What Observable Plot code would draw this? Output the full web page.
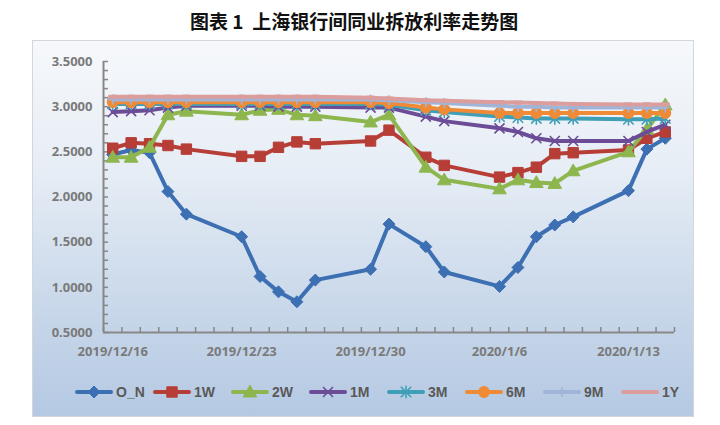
<!DOCTYPE html>
<html>
<head>
<meta charset="utf-8">
<script src="https://cdn.jsdelivr.net/npm/d3@7"></script>
<script src="https://cdn.jsdelivr.net/npm/@observablehq/plot@0.6"></script>
<style>
  html, body { margin: 0; padding: 0; background: #fff; }
  body { width: 720px; height: 425px; position: relative; overflow: hidden; font-family: "Liberation Sans", Arial, sans-serif; }
  #title { position: absolute; top: 7px; left: 190px; width: 316px; text-align: center; white-space: nowrap;
           font: bold 19px "Noto Sans CJK SC", sans-serif; color: #111; }
  #frame { position: absolute; left: 32px; top: 40px; width: 660px; height: 375px; border: 1px solid #d3d7dd;
           background: linear-gradient(to bottom, #f6f8fb 0%, #e6edf5 35%, #c9d8ea 70%, #b5c9e3 100%); }
  #chart { position: absolute; left: 0; top: 0; }
  #legend { position: absolute; left: 42px; top: 343px; display: flex; align-items: center; gap: 0; }
  .item { display: flex; align-items: center; width: 78px; }
  .item span { font: bold 14px "Liberation Sans", Arial, sans-serif; color: #595959; margin-left: 3px; }
</style>
</head>
<body>
<div id="title">图表 1&nbsp;&nbsp;上海银行间同业拆放利率走势图</div>
<div id="frame">
  <div id="chart"></div>
  <div id="legend"></div>
</div>
<script>
// ---- data ----
const dates = ["2019-12-16","2019-12-17","2019-12-18","2019-12-19","2019-12-20",
               "2019-12-23","2019-12-24","2019-12-25","2019-12-26","2019-12-27",
               "2019-12-30","2019-12-31","2020-01-02","2020-01-03",
               "2020-01-06","2020-01-07","2020-01-08","2020-01-09","2020-01-10",
               "2020-01-13","2020-01-14","2020-01-15"];
const seriesNames = ["O_N","1W","2W","1M","3M","6M","9M","1Y"];
const valsON = [2.47,2.52,2.49,2.06,1.81,1.56,1.12,0.95,0.84,1.08,1.20,1.70,1.45,1.17,1.01,1.22,1.56,1.69,1.78,2.07,2.53,2.65];
const vals1W = [2.54,2.60,2.59,2.57,2.53,2.45,2.45,2.55,2.61,2.59,2.62,2.74,2.44,2.35,2.22,2.27,2.33,2.48,2.49,2.52,2.65,2.72];
const vals2W = [2.44,2.44,2.55,2.91,2.95,2.91,2.96,2.97,2.91,2.90,2.83,2.91,2.33,2.19,2.09,2.19,2.16,2.15,2.29,2.50,2.75,3.02];
const vals1M = [2.94,2.95,2.96,2.99,3.01,3.01,3.01,3.00,3.00,3.00,2.99,2.99,2.89,2.84,2.76,2.72,2.65,2.62,2.62,2.62,2.72,2.80];
const vals3M = [3.03,3.03,3.03,3.03,3.03,3.03,3.03,3.03,3.03,3.03,3.03,3.02,2.96,2.94,2.89,2.88,2.87,2.87,2.87,2.86,2.86,2.87];
const vals6M = [3.05,3.05,3.05,3.05,3.05,3.05,3.05,3.05,3.05,3.05,3.05,3.04,2.99,2.97,2.93,2.93,2.93,2.93,2.93,2.93,2.93,2.93];
const vals9M = [3.08,3.08,3.08,3.08,3.08,3.08,3.08,3.08,3.08,3.08,3.08,3.07,3.05,3.04,3.01,3.00,3.00,2.99,2.99,2.99,2.99,2.99];
const vals1Y = [3.11,3.11,3.11,3.11,3.11,3.11,3.11,3.11,3.11,3.11,3.10,3.09,3.07,3.065,3.05,3.045,3.04,3.035,3.03,3.025,3.025,3.025];
const xLabels = ["2019/12/16","2019/12/23","2019/12/30","2020/1/6","2020/1/13"];
const yTicks = [0.5,1.0,1.5,2.0,2.5,3.0,3.5];
const yMinorTicks = d3.range(5, 36).map(d => d / 10);
const colors = ["#3d6fb3","#b73d37","#8db64f","#6c4c97","#3f9fb6","#ef8b37","#a0b4d7","#dc9d9d"];

// ---- symbols ----
const mk = (fn) => ({draw(ctx, size) { fn(ctx, Math.sqrt(size / Math.PI)); }});
const symDiamond = mk((c, r) => { c.moveTo(0,-r); c.lineTo(r,0); c.lineTo(0,r); c.lineTo(-r,0); c.closePath(); });
const symSquare = mk((c, r) => { c.rect(-r,-r,2*r,2*r); });
const symTriangle = mk((c, r) => { c.moveTo(0,-r*1.1); c.lineTo(r*1.1,r*0.8); c.lineTo(-r*1.1,r*0.8); c.closePath(); });
const symX = mk((c, r) => { c.moveTo(-r,-r); c.lineTo(r,r); c.moveTo(r,-r); c.lineTo(-r,r); });
const symAst = mk((c, r) => { c.moveTo(-r,-r); c.lineTo(r,r); c.moveTo(r,-r); c.lineTo(-r,r); c.moveTo(0,-r*1.2); c.lineTo(0,r*1.2); });
const symCircle = mk((c, r) => { c.moveTo(r,0); c.arc(0,0,r,0,2*Math.PI); });
const symPlus = mk((c, r) => { c.moveTo(0,-r); c.lineTo(0,r); c.moveTo(-r,0); c.lineTo(r,0); });
const symDash = mk((c, r) => { c.rect(-r,-1.5,2*r,3); });
const symbols = [symDiamond, symSquare, symTriangle, symX, symAst, symCircle, symPlus, symDash];
const symR = [6, 5.2, 6.2, 5, 5.2, 5.5, 5, 4];
const symFilled = [true, true, true, false, false, true, false, true];

// ---- build table ----
const parse = d3.utcParse("%Y-%m-%d");
const allVals = [valsON, vals1W, vals2W, vals1M, vals3M, vals6M, vals9M, vals1Y];
const series = seriesNames.map((name, i) => ({
  name, color: colors[i],
  rows: dates.map((d, j) => ({date: parse(d), value: allVals[i][j], name}))
}));

const DAY = 864e5;
const xMin = new Date(parse(dates[0]).getTime() - DAY / 2);
const xMax = new Date(parse(dates[dates.length - 1]).getTime() + DAY / 2);
const xTickDates = d3.range(xMin.getTime(), xMax.getTime() + 1, DAY).map(t => new Date(t));
const parseLabel = d3.utcParse("%Y/%m/%d");
const labelDates = xLabels.map(s => parseLabel(s));

const W = 660, H = 330, ML = 70, MR = 19, MT = 20, MB = 39;
const frameW = W - ML - MR, frameH = H - MT - MB;
const axisColor = "#878787";

const marks = [
  // axis lines
  Plot.ruleX([xMin], {y1: 0.5, y2: 3.5, stroke: axisColor, strokeWidth: 2}),
  Plot.ruleY([0.5], {x1: xMin, x2: xMax, stroke: axisColor, strokeWidth: 2}),
  // ticks (inside)
  Plot.tickY(yMinorTicks, {y: d => d, insetRight: frameW - 5, stroke: axisColor, strokeWidth: 1.5}),
  Plot.tickX(xTickDates, {x: d => d, insetTop: frameH - 5, stroke: axisColor, strokeWidth: 1.5}),
  // labels
  Plot.axisY({ticks: yTicks, tickSize: 0, tickPadding: 11, tickFormat: d => d.toFixed(4), label: null,
              fontSize: 13, fontWeight: "bold", fill: "#7a7a7a"}),
  Plot.axisX({ticks: labelDates, tickSize: 0, tickPadding: 14, label: null,
              tickFormat: d => `${d.getUTCFullYear()}/${d.getUTCMonth() + 1}/${d.getUTCDate()}`,
              fontSize: 13, fontWeight: "bold", fill: "#7a7a7a"})
];
series.forEach((s, i) => {
  marks.push(Plot.line(s.rows, {x: "date", y: "value", stroke: s.color, strokeWidth: 4, strokeLinejoin: "round", strokeLinecap: "round"}));
  marks.push(Plot.dot(s.rows, {
    x: "date", y: "value", symbol: symbols[i], r: symR[i],
    fill: symFilled[i] ? s.color : "none",
    stroke: s.color, strokeWidth: symFilled[i] ? 1 : 1.6
  }));
});

const chart = Plot.plot({
  width: W, height: H, marginLeft: ML, marginRight: MR, marginTop: MT, marginBottom: MB,
  style: {background: "transparent", overflow: "visible"},
  x: {type: "utc", domain: [xMin, xMax], axis: null},
  y: {domain: [0.5, 3.5], axis: null},
  marks
});
document.getElementById("chart").appendChild(chart);

// ---- legend ----
const legend = document.getElementById("legend");
series.forEach((s, i) => {
  const item = document.createElement("div");
  item.className = "item";
  const svg = d3.create("svg").attr("width", 38).attr("height", 16);
  svg.append("line").attr("x1", 2).attr("x2", 36).attr("y1", 8).attr("y2", 8)
     .attr("stroke", s.color).attr("stroke-width", 4).attr("stroke-linecap", "round");
  const r = symR[i];
  svg.append("path").attr("transform", "translate(19,8)")
     .attr("d", d3.symbol(symbols[i], Math.PI * r * r)())
     .attr("fill", symFilled[i] ? s.color : "none")
     .attr("stroke", s.color).attr("stroke-width", symFilled[i] ? 1 : 1.6);
  item.appendChild(svg.node());
  const label = document.createElement("span");
  label.textContent = s.name;
  item.appendChild(label);
  legend.appendChild(item);
});
</script>
</body>
</html>
